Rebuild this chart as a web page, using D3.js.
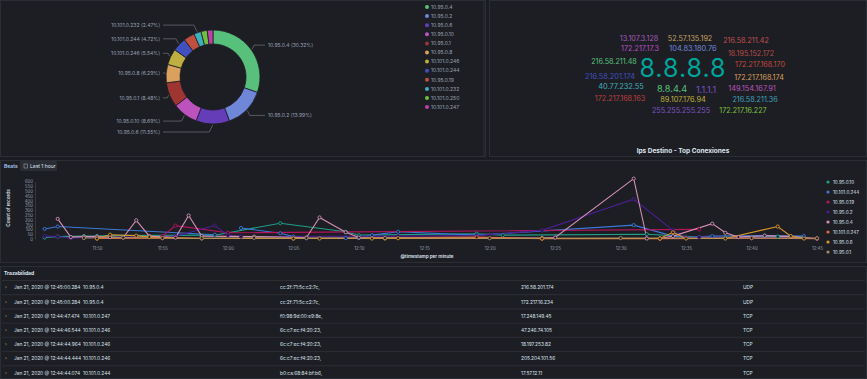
<!DOCTYPE html>
<html>
<head>
<meta charset="utf-8">
<script src="https://cdn.jsdelivr.net/npm/d3@7"></script>
<style>
  body { margin: 0; background: #1b1c21; }
  svg { display: block; font-family: Inter, "Open Sans", sans-serif; }
</style>
</head>
<body>
<svg width="867" height="379"></svg>
<script>
// ---- donut data ----
var pieLabels = ["10.95.0.4", "10.95.0.2", "10.95.0.6", "10.95.0.10", "10.95.0.1", "10.95.0.8",
                 "10.101.0.246", "10.101.0.244", "10.95.0.19", "10.101.0.232", "10.101.0.250", "10.101.0.247"];
var pieValues = [30.32, 13.99, 11.55, 8.69, 8.48, 6.29, 5.54, 4.72, 3.83, 2.47, 2.17, 1.95];
var pieColors = ["#57c17b", "#6f87d8", "#663db8", "#bc52bc", "#9e3533", "#daa05d",
                 "#bfaf40", "#4050bf", "#bf5040", "#40afbf", "#70bf40", "#bf40a7"];
var pieHidden = ["10.95.0.19", "10.101.0.250", "10.101.0.247"];

// ---- word cloud data ----
var cloudWords = ["8.8.8.8", "8.8.4.4", "1.1.1.1", "13.107.3.128", "52.57.135.192", "216.58.211.42",
  "172.217.17.3", "104.83.180.76", "18.195.152.172", "216.58.211.48", "172.217.168.170",
  "216.58.201.174", "172.217.168.174", "40.77.232.55", "149.154.167.91", "172.217.168.163",
  "89.107.176.94", "216.58.211.36", "255.255.255.255", "172.217.16.227"];
var cloudSizes = [25, 9.2, 9, 7.2, 7.2, 7.2, 7.2, 7.4, 7.2, 7.2, 7.2, 7.4, 7.2, 7.4, 7.4, 7.2, 7.4, 7.2, 7.2, 7.2];
var cloudColors = ["#00a69b", "#57c17b", "#7a4fc8", "#a55cb8", "#c9a062", "#c0504f",
  "#b84fc4", "#6f87d8", "#b84a44", "#57c17b", "#c04b3f",
  "#4050bf", "#daa05d", "#40afbf", "#bc52bc", "#bf4040",
  "#bfaf40", "#40a0bf", "#7f52c4", "#7fc040"];
// layout (center x, baseline y) of each word
var cloudPos = [[683, 77], [672, 92], [706, 92.5], [639, 40.5], [690, 40.5], [746, 42.5],
  [640, 51], [693, 51], [751, 56], [614, 64], [760, 67],
  [610, 79], [759, 80], [621, 89], [752, 91], [620, 101],
  [683, 102], [755, 102], [681, 113], [743, 113]];

// ---- line chart data (minute, count) ----
var lineNames = ["10.95.0.10", "10.101.0.244", "10.95.0.19", "10.95.0.2", "10.95.0.4", "10.101.0.247", "10.95.0.6", "10.95.0.1"];
var lineColors = ["#1f9e89", "#3b78d8", "#b8145e", "#4b1d91", "#d58fb4", "#e4683f", "#d9972a", "#a58a64"];
var s_10_95_0_10 = [["11:46", 15], ["11:47", 25], ["11:49", 30], ["11:50", 30], ["11:51", 35], ["11:59", 40], ["12:04", 165], ["12:09", 75], ["12:10", 40], ["12:19", 55], ["12:21", 40], ["12:32", 50], ["12:36", 20], ["12:38", 15], ["12:42", 25], ["12:44", 20]];
var s_10_101_0_244 = [["11:46", 105], ["11:47", 130], ["11:59", 45], null, ["12:01", 115], ["12:04", 60], ["12:05", 25], ["12:06", 8], ["12:09", 10], ["12:10", 10], ["12:11", 40], ["12:13", 75], ["12:19", 40], ["12:31", 145], ["12:34", 30], ["12:35", 15], ["12:37", 30], ["12:41", 35], ["12:44", 30]];
var s_10_95_0_19 = [["11:55", 30], ["11:56", 140], ["12:00", 65], ["12:36", 100], null, ["12:40", 10]];
var s_10_95_0_2 = [["11:46", 30], ["11:47", 25], ["11:48", 10], ["11:56", 30], ["11:59", 140], ["12:00", 40], ["12:01", 25], ["12:13", 30], ["12:19", 35], ["12:24", 90], ["12:31", 415], ["12:34", 90], ["12:35", 15], ["12:36", 20], ["12:45", 5]];
var s_10_95_0_4 = [["11:47", 210], ["11:48", 20], ["11:49", 25], ["11:50", 25], ["11:51", 20], ["11:52", 15], ["11:53", 195], ["11:54", 30], ["11:56", 15], ["11:57", 245], ["11:58", 30], ["12:02", 25], ["12:06", 15], ["12:07", 225], ["12:09", 70], ["12:10", 15], ["12:24", 10], ["12:25", 15], ["12:31", 630], ["12:32", 5], ["12:33", 5], ["12:34", 30], ["12:37", 160], ["12:38", 65], ["12:39", 20], ["12:41", 35], ["12:43", 25], ["12:45", 5]];
var s_10_101_0_247 = [["11:50", 5], ["11:55", 8], ["12:05", 5], ["12:19", 20], ["12:24", 3], ["12:33", 4], ["12:40", 8], ["12:45", 4]];
var s_10_95_0_6 = [["11:50", 5], ["11:51", 45], ["11:53", 35], ["11:54", 20], ["11:58", 5], ["12:05", 5], ["12:07", 5], ["12:11", 5], ["12:12", 5], ["12:13", 8], ["12:24", 5], ["12:33", 5], ["12:34", 70], ["12:35", 5], ["12:38", 5], ["12:42", 130], ["12:43", 30], ["12:44", 5]];
var s_10_95_0_1 = [["11:49", 10], ["11:52", 15], ["11:55", 10], ["11:58", 8], ["12:02", 12], ["12:06", 10], ["12:12", 10], ["12:20", 8], ["12:30", 10], ["12:40", 10], ["12:45", 8]];
var lineSeries = [s_10_95_0_10, s_10_101_0_244, s_10_95_0_19, s_10_95_0_2, s_10_95_0_4, s_10_101_0_247, s_10_95_0_6, s_10_95_0_1];
var yTicks = d3.range(0, 601, 50);

// ---- table data ----
var rowDates = ["Jan 21, 2020 @ 12:45:00.284", "Jan 21, 2020 @ 12:45:00.284", "Jan 21, 2020 @ 12:44:47.474",
  "Jan 21, 2020 @ 12:44:46.544", "Jan 21, 2020 @ 12:44:44.964", "Jan 21, 2020 @ 12:44:44.444", "Jan 21, 2020 @ 12:44:44.074"];
var rowSrc = ["10.95.0.4", "10.95.0.4", "10.101.0.247", "10.101.0.246", "10.101.0.246", "10.101.0.246", "10.101.0.244"];
var rowMac = ["cc:2f:71:5c:c2:7c,", "cc:2f:71:5c:c2:7c,", "f0:98:9d:00:e9:8e,", "6c:c7:ec:f4:20:23,",
  "6c:c7:ec:f4:20:23,", "6c:c7:ec:f4:20:23,", "b0:ca:68:84:bf:b6,"];
var rowDst = ["216.58.201.174", "172.217.16.234", "17.248.149.45", "47.246.74.105", "18.197.253.82", "205.204.101.56", "17.57.12.11"];
var rowProto = ["UDP", "UDP", "TCP", "TCP", "TCP", "TCP", "TCP"];

var svg = d3.select("svg");
var txt = "#dfe5ef", dim = "#98a2b3", border = "#2c2e36";

// panels
var panels = [[0, 0, 486, 157], [489, 0, 378, 157], [0, 160, 867, 103], [0, 266, 867, 113]];
svg.selectAll(".panel").data(panels).enter().append("rect")
   .attr("x", function(d) { return d[0] + 0.5; })
   .attr("y", function(d) { return d[1] + 0.5; })
   .attr("width", function(d) { return d[2] - 1; })
   .attr("height", function(d) { return d[3] - 1; })
   .attr("fill", "#1d1e24")
   .attr("stroke", border);

// ---------- donut ----------
var cx = 213, cy = 77;
var pie = d3.pie().sort(null).value(function(d) { return d; });
var arcs = pie(pieValues);
var arc = d3.arc().innerRadius(33).outerRadius(47);
var gp = svg.append("g").attr("transform", "translate(" + cx + "," + cy + ")");
gp.selectAll("path").data(arcs).enter().append("path")
  .attr("d", arc)
  .attr("fill", function(d, i) { return pieColors[i]; })
  .attr("stroke", "#1d1e24")
  .attr("stroke-width", 0.8);

arcs.forEach(function(d, i) {
    if (pieHidden.indexOf(pieLabels[i]) >= 0) return;
    var a = (d.startAngle + d.endAngle) / 2;
    var px = Math.sin(a) * 48, py = -Math.cos(a) * 48;
    var ly = -Math.cos(a) * 55;
    var right = Math.sin(a) > 0;
    var lx = right ? 55 : -53;
    var ex = px + (right ? 1 : -1) * Math.min(Math.abs(ly - py) * 0.5, 6);
    gp.append("polyline")
      .attr("points", [[lx + (right ? -3 : 3), ly], [ex, ly], [px, py]].map(function(p) { return p.join(","); }).join(" "))
      .attr("fill", "none")
      .attr("stroke", "#7d828c")
      .attr("stroke-width", 0.6);
    gp.append("text")
      .attr("x", lx)
      .attr("y", ly)
      .attr("dy", "0.35em")
      .attr("text-anchor", right ? "start" : "end")
      .attr("font-size", 5)
      .attr("fill", dim)
      .text(pieLabels[i] + " (" + pieValues[i].toFixed(2) + "%)");
});

// donut legend
var lg = svg.append("g");
pieLabels.forEach(function(n, i) {
    lg.append("circle").attr("cx", 427).attr("cy", 7 + i * 9.1).attr("r", 2).attr("fill", pieColors[i]);
    lg.append("text").attr("x", 431).attr("y", 7 + i * 9.1).attr("dy", "0.35em")
      .attr("font-size", 5).attr("fill", dim).text(n);
});
svg.append("line").attr("x1", 484).attr("x2", 484).attr("y1", 0).attr("y2", 156)
   .attr("stroke", border);

// ---------- word cloud ----------
var gc = svg.append("g");
cloudWords.forEach(function(w, i) {
    gc.append("text")
      .attr("x", cloudPos[i][0])
      .attr("y", cloudPos[i][1])
      .attr("text-anchor", "middle")
      .attr("font-size", cloudSizes[i])
      .attr("letter-spacing", i === 0 ? 1 : 0)
      .attr("fill", cloudColors[i])
      .text(w);
});
svg.append("text").attr("x", 683).attr("y", 153).attr("text-anchor", "middle")
   .attr("font-size", 6.5).attr("font-weight", 700).attr("fill", txt)
   .text("Ips Destino - Top Conexiones");

// ---------- line chart ----------
svg.append("text").attr("x", 4).attr("y", 168).attr("font-size", 5).attr("font-weight", 600)
   .attr("fill", "#a9c6f5").text("Beats");
svg.append("rect").attr("x", 20).attr("y", 161).attr("width", 37).attr("height", 10).attr("rx", 1)
   .attr("fill", "#2b2d35");
svg.append("rect").attr("x", 24).attr("y", 164).attr("width", 3.5).attr("height", 4)
   .attr("fill", "none").attr("stroke", dim).attr("stroke-width", 0.6);
svg.append("text").attr("x", 30).attr("y", 168).attr("font-size", 5).attr("fill", txt).text("Last 1 hour");

var parse = d3.timeParse("%H:%M");
var x = d3.scaleTime().domain([parse("11:50"), parse("12:45")]).range([97, 817]);
var y = d3.scaleLinear().domain([0, 600]).range([239, 181.5]);

var ya = svg.append("g").attr("transform", "translate(35,0)")
   .call(d3.axisLeft(y).tickValues(yTicks).tickSize(0).tickPadding(2));
ya.select(".domain").attr("stroke", "#343741");
ya.selectAll("text").attr("font-size", 4.3).attr("fill", dim).attr("font-family", "Inter, sans-serif");

var xa = svg.append("g").attr("transform", "translate(0,244)")
   .call(d3.axisBottom(x).ticks(d3.timeMinute.every(5)).tickFormat(d3.timeFormat("%H:%M")).tickSize(0).tickPadding(3));
xa.select(".domain").remove();
xa.selectAll("text").attr("font-size", 4.3).attr("fill", dim).attr("font-family", "Inter, sans-serif");

svg.append("text").attr("transform", "translate(10,208) rotate(-90)").attr("text-anchor", "middle")
   .attr("font-size", 4.6).attr("font-weight", 600).attr("fill", txt).text("Count of records");
svg.append("text").attr("x", 427).attr("y", 258).attr("text-anchor", "middle")
   .attr("font-size", 4.6).attr("font-weight", 600).attr("fill", txt).text("@timestamp per minute");

var line = d3.line()
    .defined(function(d) { return d != null; })
    .x(function(d) { return x(parse(d[0])); })
    .y(function(d) { return y(d[1]); });

var gl = svg.append("g");
lineSeries.forEach(function(s, i) {
    gl.append("path").attr("d", line(s)).attr("fill", "none")
      .attr("stroke", lineColors[i]).attr("stroke-width", 1.1);
});
lineSeries.forEach(function(s, i) {
    gl.selectAll(".pt" + i).data(s.filter(function(d) { return d != null; })).enter().append("circle")
      .attr("cx", function(d) { return x(parse(d[0])); })
      .attr("cy", function(d) { return y(d[1]); })
      .attr("r", 1.6)
      .attr("fill", "#1d1e24")
      .attr("stroke", lineColors[i])
      .attr("stroke-width", 0.9);
});

lineNames.forEach(function(n, i) {
    svg.append("circle").attr("cx", 828).attr("cy", 182 + i * 10).attr("r", 1.6).attr("fill", lineColors[i]);
    svg.append("text").attr("x", 833).attr("y", 182 + i * 10).attr("dy", "0.35em")
       .attr("font-size", 4.6).attr("fill", txt).text(n);
});

// ---------- table ----------
svg.append("text").attr("x", 4).attr("y", 275).attr("font-size", 5).attr("font-weight", 700)
   .attr("fill", txt).text("Trazabilidad");
var rowY = d3.scaleBand().domain(d3.range(rowDates.length)).range([280.5, 380]);
svg.selectAll(".rowline").data(d3.range(rowDates.length)).enter().append("line")
   .attr("x1", 2).attr("x2", 865)
   .attr("y1", function(d) { return rowY(d); })
   .attr("y2", function(d) { return rowY(d); })
   .attr("stroke", border);
var cols = [[14, rowDates], [83, rowSrc], [280, rowMac], [521, rowDst], [743, rowProto]];
rowDates.forEach(function(r, i) {
    var cyr = rowY(i) + rowY.bandwidth() / 2;
    svg.append("text").attr("x", 5).attr("y", cyr).attr("dy", "0.35em").attr("font-size", 5)
       .attr("fill", dim).text("›");
    cols.forEach(function(c) {
        svg.append("text").attr("x", c[0]).attr("y", cyr).attr("dy", "0.35em")
           .attr("font-size", 4.8).attr("fill", txt).text(c[1][i]);
    });
});
</script>
</body>
</html>
